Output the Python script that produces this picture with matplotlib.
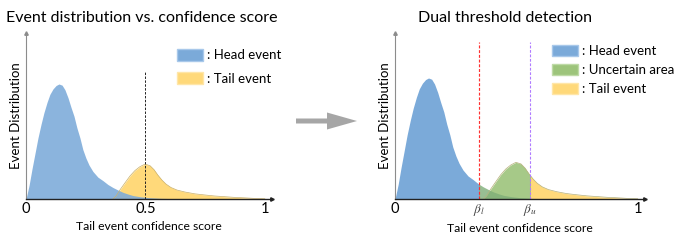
import numpy as np
import matplotlib
matplotlib.use("Agg")
import matplotlib.pyplot as plt
from matplotlib.patches import Patch, FancyArrow, Rectangle

plt.rcParams['font.family'] = ['Lato', 'DejaVu Sans']
plt.rcParams['mathtext.fontset'] = 'stix'

# head event distribution (peak = 1)
head_x = [0.0, 0.013, 0.025, 0.038, 0.050, 0.063, 0.075, 0.088, 0.100, 0.113,
          0.126, 0.138, 0.151, 0.163, 0.176, 0.188, 0.201, 0.213, 0.226, 0.238,
          0.251, 0.264, 0.280, 0.301, 0.322, 0.343, 0.364, 0.385, 0.406, 0.427,
          0.448, 0.477, 0.510, 0.561, 0.623, 0.686]
head_y = [0.0, 0.12, 0.26, 0.40, 0.53, 0.65, 0.75, 0.84, 0.91, 0.957,
          0.987, 1.0, 0.99, 0.95, 0.88, 0.80, 0.72, 0.62, 0.53, 0.43,
          0.355, 0.295, 0.24, 0.19, 0.16, 0.126, 0.10, 0.078, 0.058, 0.043,
          0.030, 0.020, 0.012, 0.006, 0.0026, 0.0]

# tail event distribution
tail_x = [0.364, 0.377, 0.393, 0.414, 0.435, 0.456, 0.477, 0.498, 0.519, 0.536,
          0.552, 0.569, 0.586, 0.607, 0.632, 0.665, 0.707, 0.749, 0.791, 0.833,
          0.874, 0.916, 0.958, 1.0]
tail_y = [0.0, 0.026, 0.078, 0.139, 0.199, 0.247, 0.281, 0.303, 0.290, 0.255,
          0.208, 0.165, 0.130, 0.100, 0.078, 0.061, 0.045, 0.035, 0.026, 0.020,
          0.014, 0.010, 0.005, 0.002]

beta_l = 0.346
beta_u = 0.556
mid = 0.5

blue = '#7BAAD9'
yellow = '#FFD97A'
green = '#9DC47B'

fig = plt.figure(figsize=(6.92, 2.4), dpi=100)
axL = fig.add_axes([26/692, 41/240, 246/692, 166/240])
axR = fig.add_axes([395/692, 41/240, 250/692, 166/240])


def style(ax, ytop):
    ax.set_xlim(0, 1.03)
    ax.set_ylim(0, ytop)
    for s in ['top', 'right']:
        ax.spines[s].set_visible(False)
    ax.spines['left'].set_color('#8c8c8c')
    ax.spines['left'].set_linewidth(0.8)
    ax.spines['bottom'].set_color('#222222')
    ax.spines['bottom'].set_linewidth(1.0)
    ax.plot(1, 0, '>', color='#222222', ms=2.5, transform=ax.get_yaxis_transform(), clip_on=False)
    ax.plot(0, 1, '^', color='#8c8c8c', ms=2.5, transform=ax.get_xaxis_transform(), clip_on=False)
    ax.set_yticks([])
    ax.tick_params(axis='x', length=0, pad=2, labelsize=10.5)
    ax.set_ylabel('Event Distribution', fontsize=9.5, labelpad=3)
    ax.set_xlabel('Tail event confidence score', fontsize=8.7, labelpad=4)


def fill_part(ax, x, y, x0, x1, **kw):
    poly = ax.fill_between(x, y, lw=0, **kw)
    clip = Rectangle((x0, 0), x1 - x0, 10, transform=ax.transData)
    poly.set_clip_path(clip)
    return poly


# left panel
style(axL, 166/115)
axL.fill_between(tail_x, tail_y, color=yellow, lw=0)
axL.plot(tail_x, tail_y, color='#C9B06A', lw=0.5)
axL.fill_between(head_x, head_y, color=blue, alpha=0.88, lw=0)
axL.vlines(mid, 0, 127/115, colors='#222222', linestyles=(0, (2.5, 1.5)), lw=0.7)
axL.set_xticks([0, 0.5, 1], ['0', '0.5', '1'])
axL.set_title('Event distribution vs. confidence score', fontsize=11.5, pad=8, x=0.47)
axL.legend(handles=[Patch(facecolor=blue, edgecolor='#A8C8EA', label=': Head event'),
                    Patch(facecolor=yellow, edgecolor='#FFE6A8', label=': Tail event')],
           loc='upper left', bbox_to_anchor=(0.614, 0.905), frameon=False,
           fontsize=9.5, handlelength=2.0, handleheight=1.0, handletextpad=0.3,
           labelspacing=0.85, borderpad=0, borderaxespad=0)

# right panel
style(axR, 166/121)
fill_part(axR, tail_x, tail_y, beta_u, 1.1, color=yellow)
fill_part(axR, tail_x, tail_y, 0, beta_u, color=green, alpha=0.9)
axR.plot(tail_x, tail_y, color='#B5B07A', lw=0.5)
fill_part(axR, head_x, head_y, 0, beta_l, color=blue)
fill_part(axR, head_x, head_y, beta_l, beta_u, color='#7FAE78', alpha=0.8)
fill_part(axR, head_x, head_y, beta_u, 1.1, color='#B8C48A', alpha=0.8)
axR.vlines(beta_l, 0, 157/121, colors='#FF3030', linestyles=(0, (2.5, 1.5)), lw=0.85)
axR.vlines(beta_u, 0, 157/121, colors='#B07CFF', linestyles=(0, (2.5, 1.5)), lw=0.8)
axR.set_xticks([0, beta_l, beta_u, 1], ['0', r'$\beta_l$', r'$\beta_u$', '1'])
for lab in axR.get_xticklabels()[1:3]:
    lab.set_fontsize(9.5)
    lab.set_color('#444444')
axR.set_title('Dual threshold detection', fontsize=11.5, pad=8, x=0.438)
axR.legend(handles=[Patch(facecolor=blue, edgecolor='#A8C8EA', label=': Head event'),
                    Patch(facecolor=green, edgecolor='#BEDAA6', label=': Uncertain area'),
                    Patch(facecolor=yellow, edgecolor='#FFE6A8', label=': Tail event')],
           loc='upper left', bbox_to_anchor=(0.628, 0.93), frameon=False,
           fontsize=9.5, handlelength=2.0, handleheight=1.0, handletextpad=0.3,
           labelspacing=0.5, borderpad=0, borderaxespad=0)

# grey arrow between panels
fig.patches.append(FancyArrow(2.96, 1.19, 0.61, 0, width=0.05, head_width=0.17,
                              head_length=0.30, length_includes_head=True,
                              color='#A6A6A6', lw=0, transform=fig.dpi_scale_trans))

fig.savefig('out.png', dpi=100)
